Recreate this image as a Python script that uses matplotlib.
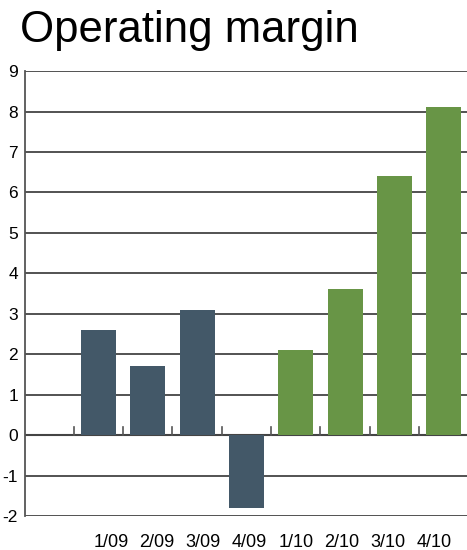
import matplotlib

matplotlib.use("Agg")

import matplotlib.pyplot as plt  # noqa: E402
import numpy as np  # noqa: E402

quarters = ["1/09", "2/09", "3/09", "4/09", "1/10", "2/10", "3/10", "4/10"]
margin = [2.6, 1.7, 3.1, -1.8, 2.1, 3.6, 6.4, 8.1]
year = ["2009", "2009", "2009", "2009", "2010", "2010", "2010", "2010"]
y_ticks = list(range(-2, 10))

colors = {"2009": "#435868", "2010": "#689546"}

plt.rcParams["font.family"] = ["Liberation Sans", "DejaVu Sans"]

fig = plt.figure(figsize=(4.67, 5.5), dpi=100)
ax = fig.add_axes([0.0535, 0.0618, 0.9465, 0.809])

x = np.arange(len(quarters))
ax.bar(x, margin, width=0.71, color=[colors[y] for y in year], zorder=3)

# grid lines at every integer
for v in y_ticks:
    ax.axhline(v, color="#444444", lw=1.3 if v != 0 else 1.5, zorder=2)

# little separator ticks standing on the zero line
for b in x - 0.5:
    ax.plot([b, b], [0, 0.2], color="#555555", lw=1.2, zorder=2)

ax.set_xlim(-1.49, 7.47)
ax.set_ylim(-2, 9)
ax.set_yticks(y_ticks)
ax.set_yticklabels([str(v) for v in y_ticks], fontsize=12.5)
ax.tick_params(axis="y", length=0, pad=5)

# category labels sit a bit off the bar centres, as in the original
ax.set_xticks(0.25 + 0.937 * x)
ax.set_xticklabels(quarters, fontsize=13)
ax.tick_params(axis="x", length=0, pad=13)

for side in ("top", "right", "bottom"):
    ax.spines[side].set_visible(False)
ax.spines["left"].set_color("#555555")
ax.spines["left"].set_linewidth(1.3)

fig.text(0.043, 0.982, "Operating margin", fontsize=31.5, ha="left", va="top")

fig.savefig("out.png", dpi=100)
